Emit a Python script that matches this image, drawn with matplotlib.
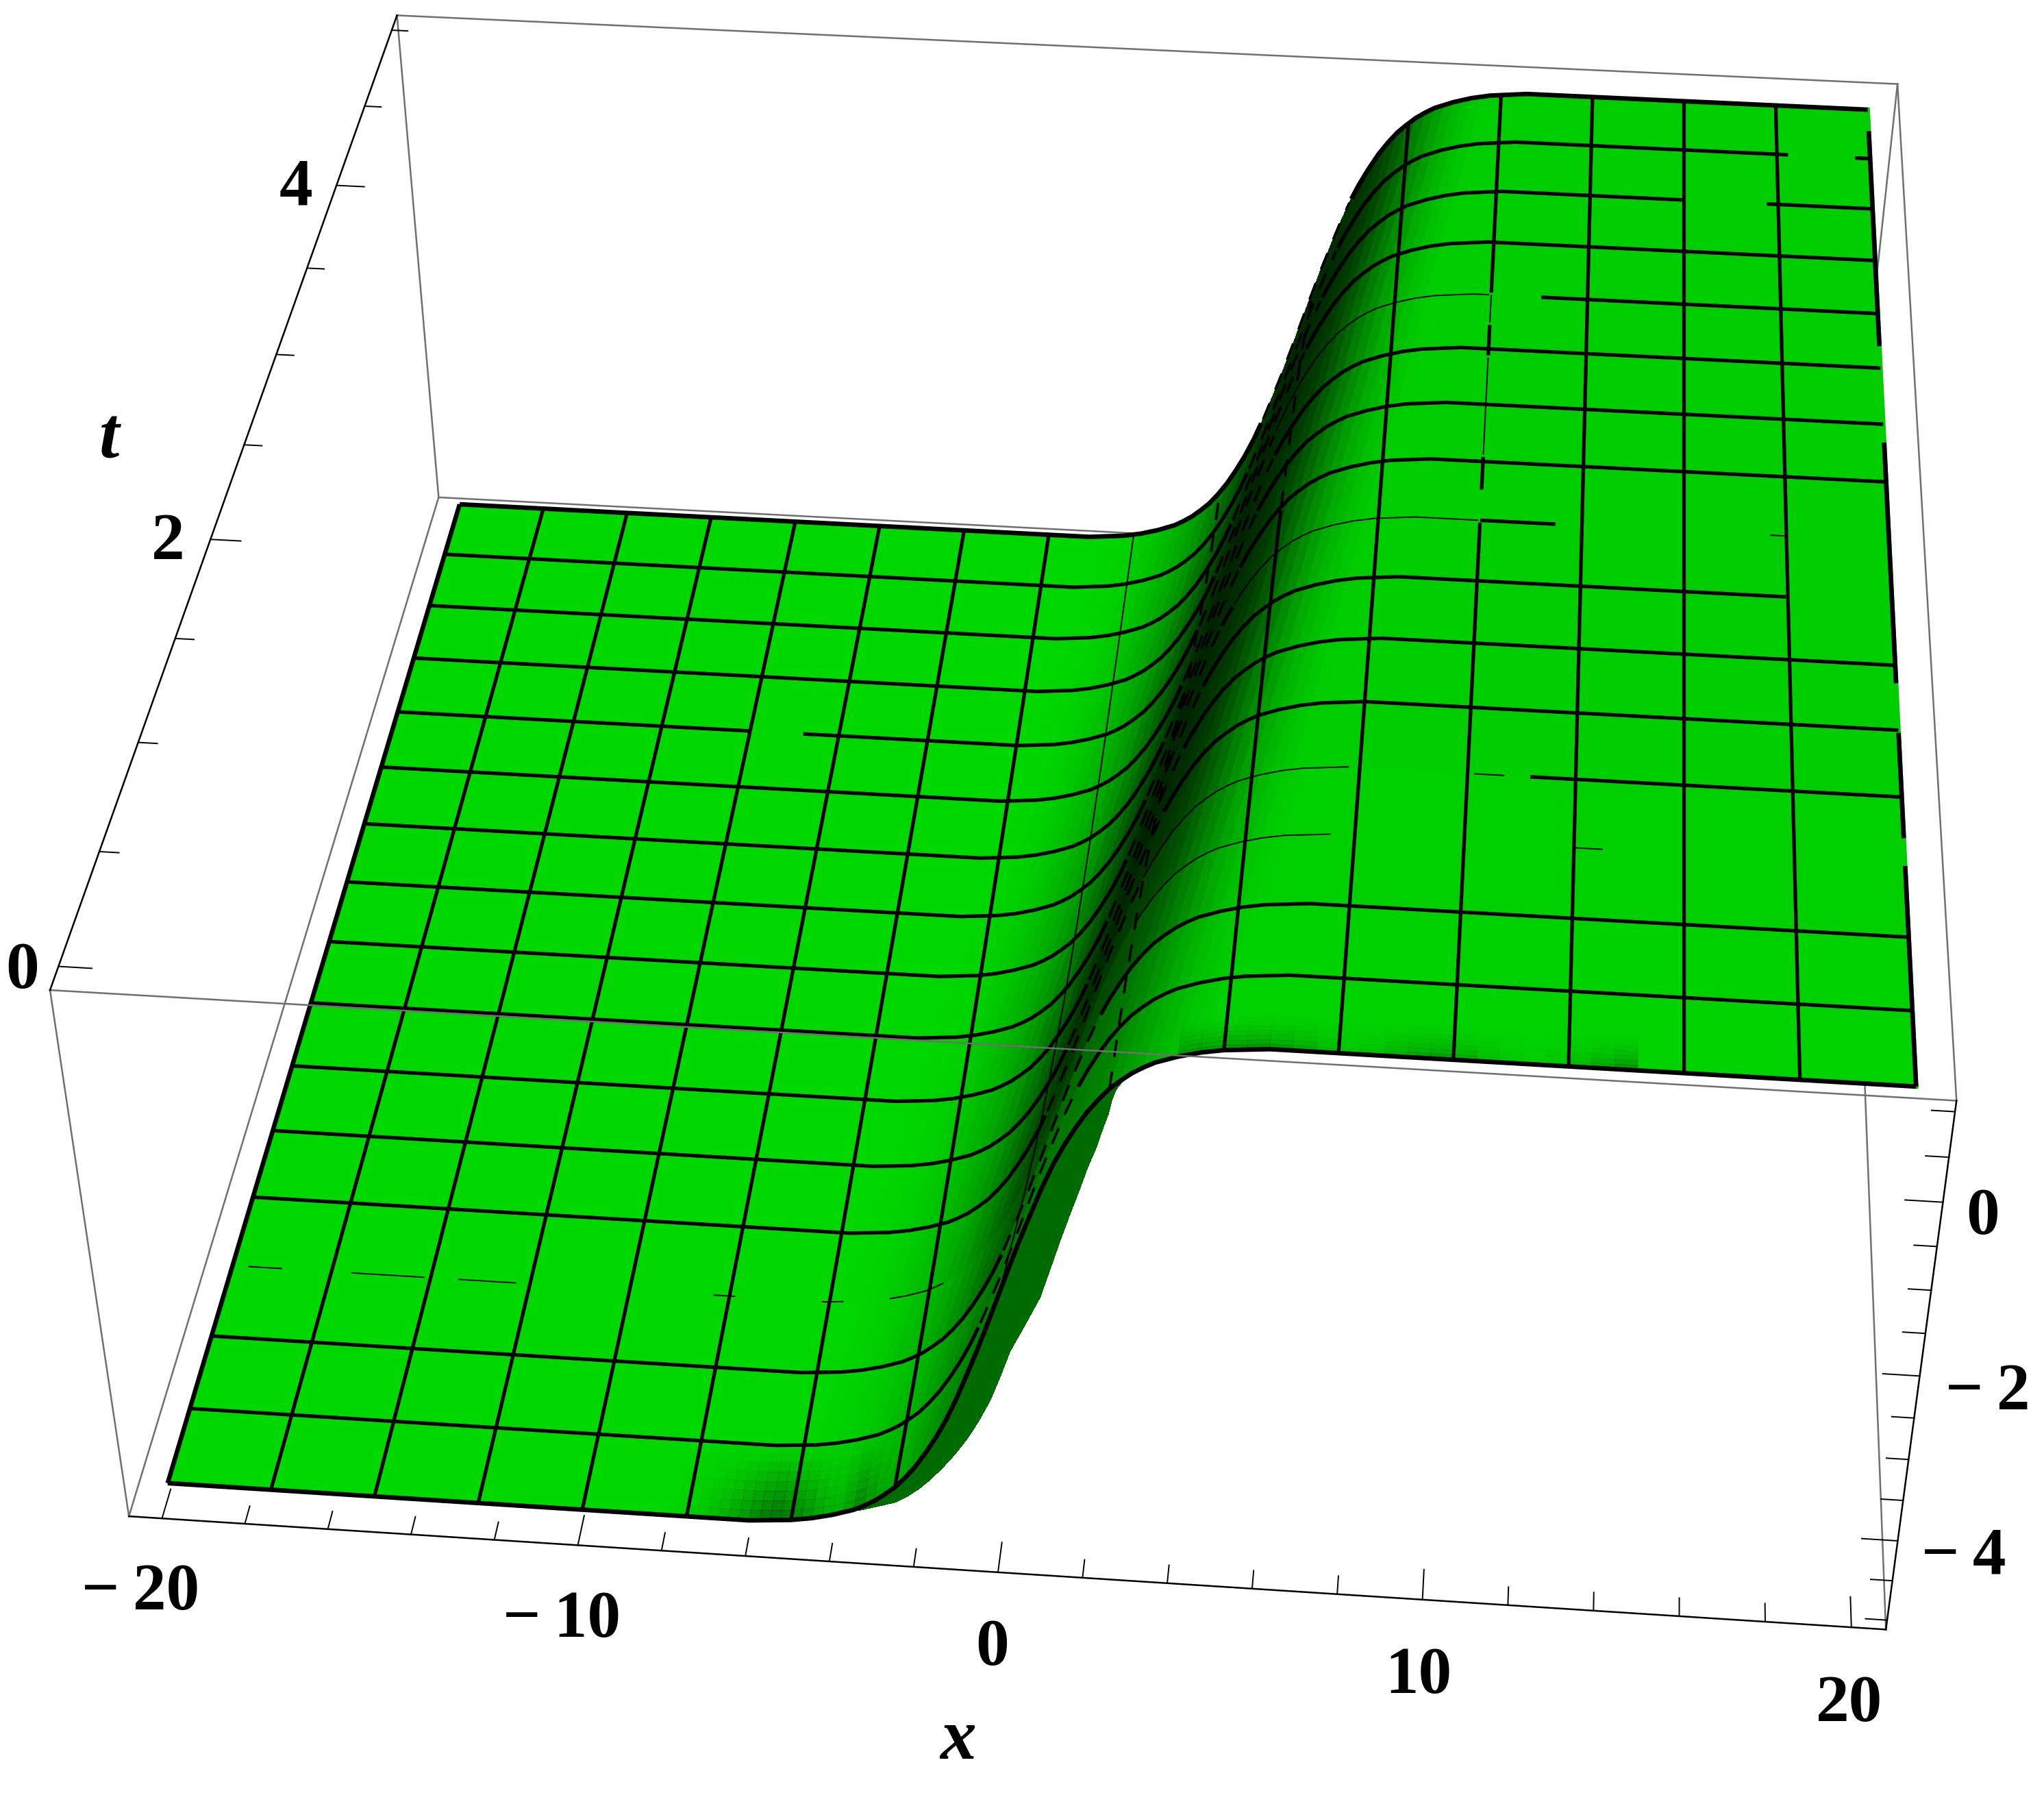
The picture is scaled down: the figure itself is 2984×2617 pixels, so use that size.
import numpy as np
import matplotlib
matplotlib.use("Agg")
from matplotlib import pyplot as plt
from mpl_toolkits.mplot3d import proj3d

# values
t_rows = [0, 0.3125, 0.625, 0.9375, 1.25, 1.5625, 1.875, 2.1875, 2.5, 2.8125,
          3.125, 3.4375, 3.75, 4.0625, 4.375, 4.6875, 5]
kink_centre = [0.0, 0.3, 0.6, 0.9, 1.2, 1.5, 1.8, 2.1, 2.4, 2.7, 3.0, 3.3,
               3.55, 3.85, 4.15, 4.45, 4.7]
kink_offset = [-60, -7, -6, -5.5, -5, -4.75, -4.5, -4.25, -4, -3.75, -3.5, -3.25, -3, -2.75,
               -2.5, -2.25, -2, -1.75, -1.5, -1.25, -1, -0.75, -0.5, -0.25, 0, 0.25, 0.5, 0.75,
               1, 1.25, 1.5, 1.75, 2, 2.25, 2.5, 2.75, 3, 3.25, 3.5, 3.75, 4, 4.25, 4.5, 4.75,
               5, 5.5, 6, 7, 60]
kink_height = [-4.98, -4.98, -4.98, -4.96, -4.94, -4.92, -4.90, -4.87, -4.84, -4.80, -4.76,
               -4.70, -4.63, -4.54, -4.44, -4.31, -4.16, -3.98, -3.78, -3.55, -3.28, -2.98,
               -2.67, -2.34, -2.0, -1.66, -1.33, -1.02, -0.72, -0.45, -0.22, -0.02, 0.16,
               0.31, 0.44, 0.54, 0.63, 0.70, 0.76, 0.80, 0.84, 0.87, 0.90, 0.92, 0.94, 0.96,
               0.98, 0.98, 0.98]
kink_green = [216, 216, 215, 213, 210, 207, 203, 198, 192, 185, 177, 168, 158, 146, 130, 116,
              100, 84, 70, 58, 50, 44, 40, 38, 36, 36, 36, 37, 39, 42, 46, 52, 60, 72, 88,
              106, 124, 142, 158, 172, 183, 192, 199, 204, 206, 206, 206, 206]
row_dark = [0.55, 0.62, 0.8, 0.9, 0.97, 1, 1, 1, 1, 1, 1, 1, 1, 1, 1, 0.97]
flap_shift = [0]*10 + [.15, .3, .5, .55, .57, .6, .63, .68, .72, .75, .78, .77, .75, .85, .95, .93,
                       .9, .87, .84, .78, .72, .6, .48, .3, .15, .05] + [0]*13

x_mesh = [-20, -17.5, -15, -12.5, -10, -7.5, -5, -2.5, 0, 2.5, 5, 7.5, 10, 12.5, 15, 17.5, 20]

# stretches of the mesh that are missing or thin in the picture
row_gaps = {3: [(-20, -19.6), (-18.7, -17), (-15.1, -14.3), (-12.8, -7.9), (-7.3, -5.2),
                (-4.6, -3.5), (-2.1, 2.5), (7, 12.5), (13.2, 20)],
            4: [(7.3, 10.15), (10.9, 11.45)],
            7: [(17.5, 20)],
            8: [(11.9, 17.1), (17.5, 20)],
            12: [(-10, -8.5), (10, 11.3)],
            14: [(15, 17.2)],
            15: [(17.85, 19.6)]}
row_thin = {3: [(-20, 20)],
            4: [(2.5, 7.3), (10.15, 10.9)],
            8: [(4, 10), (17.1, 17.5)],
            12: [(4.5, 10)]}
col_gaps = {10: [(2.5, 2.66)],
            20: [(4.87, 5), (3.03, 3.56), (1.56, 1.78), (0.94, 1.06)]}
col_thin = {0: [(0, 5)],
            10: [(2.85, 3.39), (3.58, 3.75)]}
col_dash = {2.5: [(0, 5)],
            5: [(2.8, 5)]}

blotch_x = [-8.25, -8, -7.75, -7.5, -7.25, -7, -6.75, -6.5, -6.25, -6, -5.75, -5.5, -5.25, -5,
            -4.75, -4.5, -4.25, -4, -3.75, -3.5, -3.25, -3, -2.75, -2.5, -2.25]
blotch_t = [0, 0.04, 0.08, 0.12, 0.16, 0.2, 0.24, 0.28, 0.32]
blotch_alpha = [0, .01, .03, .05, .08, .12, .17, .23, .3, .38, .45, .48, .45, .38, .3, .22,
                .15, .12, .2, .3, .2, .1, .04, 0]
blotch_decay = [1, .85, .7, .55, .4, .28, .15, .06]
ridge_x = [4, 4.5, 5, 5.5, 6, 6.5, 7, 7.5, 8, 8.5, 9, 9.5, 10, 10.5, 11, 11.5, 12, 12.5, 13,
           13.5, 14]
ridge_t = [0, 0.02, 0.04, 0.06, 0.08, 0.1, 0.12, 0.14]
ridge_alpha = [.25, .25, .28, .3, .25, .2, .12, .06, .08, .15, .22, .25, .18, .1, .05, .03,
               .05, .12, .2, .28]
ridge_decay = [1, .75, .55, .38, .25, .13, .05]

x_major = [-20, -10, 0, 10, 20]
x_minor = [-18, -16, -14, -12, -8, -6, -4, -2, 2, 4, 6, 8, 12, 14, 16, 18]
x_label_pos = [-19.98, -10.0, 0.1, 10, 19.9]
t_major = [0, 2, 4]
t_minor = [0.5, 1, 1.5, 2.5, 3, 3.5, 4.5, 5]
t_label_pos = [-21.55, -21.8, -21.85]
z_major = [-4, -2, 0]
z_minor = [-5, -4.5, -3.5, -3, -2.5, -1.5, -1, -0.5, 0.5, 1]
z_label_pos = [22.35, 22.35, 21.7]

xlim = (-20.8, 20.8)
tlim = (-0.1, 5.1)
zlim = (-5.12, 1.12)

W, H = 2984, 2617
plt.rcParams['font.family'] = ['Liberation Serif', 'DejaVu Serif']
fig = plt.figure(figsize=(W/200, H/200), dpi=200)
s = 18323.42
pos = [(1569.14 - 0.095*s)/W, (H - 1095.01 - 0.095*s)/H, 0.185*s/W, 0.185*s/H]
ax = fig.add_axes(pos, projection='3d')
ax.set_box_aspect((1, 1.0051, 0.397))
ax.set_proj_type('persp', focal_length=0.4401)
ax.view_init(elev=38.215, azim=-85.093, roll=-0.07)
ax.computed_zorder = False
ax.set_axis_off()
ax.patch.set_alpha(0)

# surface
tr = np.array(t_rows)
cen = np.array(kink_centre)
off = np.array(kink_offset)
hgt = np.array(kink_height)
X = np.clip(cen[:, None] + off[None, :], -20, 20)
T = np.repeat(tr[:, None], len(off), axis=1)
Z = np.repeat(hgt[None, :], len(tr), axis=0)
green = np.array(kink_green) / 255.0
flat = 216 / 255.0
colors = np.zeros((len(tr)-1, len(off)-1, 4))
for i, f in enumerate(row_dark):
    colors[i, :, 1] = flat - (flat - green) * f
colors[..., 3] = 1
ax.plot_surface(X, T, Z, facecolors=colors, rstride=1, cstride=1, shade=False,
                linewidth=0, antialiased=False, zorder=2)

# the flap in front of the kink
flapx = np.array([X[0], np.clip(X[0] + np.array(flap_shift), -20, 20)])
flapc = np.zeros((1, len(off)-1, 4))
flapc[..., 1] = 0.42
flapc[..., 3] = 1
ax.plot_surface(flapx, np.zeros_like(flapx), np.array([hgt, hgt]), facecolors=flapc,
                rstride=1, cstride=1, shade=False, linewidth=0, antialiased=False, zorder=1.5)


def height(x, t):
    return np.interp(x - np.interp(t, tr, cen), off, hgt)


def inside(v, spans):
    m = np.zeros(len(v), dtype=bool)
    for a, b in spans:
        m |= (v >= a) & (v <= b)
    return m


def dark_patch(xv, tv, alpha, decay):
    xv, tv = np.array(xv), np.array(tv)
    gx, gt = np.meshgrid(xv, tv)
    gz = np.array([height(xv, t) for t in tv])
    c = np.zeros((len(tv)-1, len(xv)-1, 4))
    c[..., 1] = 0.1
    c[..., 3] = np.outer(decay, alpha)
    ax.plot_surface(gx, gt, gz, facecolors=c, rstride=1, cstride=1, shade=False,
                    linewidth=0, antialiased=False, zorder=2.5)


dark_patch(blotch_x, blotch_t, blotch_alpha, blotch_decay)
dark_patch(ridge_x, ridge_t, ridge_alpha, ridge_decay)

# green rim under the right edge, shows where the mesh line breaks
ax.plot(np.full(len(t_rows), 20), t_rows, height(20, tr), color=(0, 206/255, 0), lw=2.4, zorder=2.6)


def mesh_line(px, pt, pz, gaps, thin, dash, lw):
    gaps = ~gaps
    for mask, w, ls in [(gaps & ~thin & ~dash, lw, '-'), (gaps & thin, 0.7, '-'),
                        (gaps & dash & ~thin, 1.3, (0, (7, 6)))]:
        if mask.any():
            ax.plot(px, pt, np.where(mask, pz, np.nan), color='black', lw=w, ls=ls, zorder=3,
                    solid_capstyle='butt')


xs = np.arange(-20, 20.01, 0.05)
for i, t in enumerate(t_rows):
    lw = 2.4 if i in (0, len(t_rows)-1) else 1.9
    u = xs - kink_centre[i]
    kink = (u > -1.0) & (u < 1.3) if i > 0 else np.zeros(len(xs), dtype=bool)
    mesh_line(xs, np.full_like(xs, t), height(xs, t), inside(xs, row_gaps.get(i, [])),
              inside(xs, row_thin.get(i, [])), kink, lw)
ts = np.linspace(0, 5, 401)
cen_t = np.interp(ts, tr, cen)
for i, x in enumerate(x_mesh):
    lw = 2.4 if i in (0, len(x_mesh)-1) else 1.9
    u = x - cen_t
    kink = inside(ts, col_dash.get(x, [])) | ((u > -1.3) & (u < 1.3))
    mesh_line(np.full_like(ts, x), ts, height(x, ts), inside(ts, col_gaps.get(x, [])),
              inside(ts, col_thin.get(x, [])), kink, lw)

# box
gray = '#707070'
def edge(a, b, c, color=gray, lw=0.9, z=4):
    ax.plot(a, b, c, color=color, lw=lw, zorder=z)

x0, x1 = xlim
t0, t1 = tlim
z0, z1 = zlim
edge([x0, x1], [t1, t1], [z0, z0], z=1)
edge([x0, x0], [t0, t1], [z0, z0], z=1)
edge([x1, x1], [t0, t1], [z0, z0], z=1)
edge([x0, x0], [t1, t1], [z0, z1], z=1)
edge([x1, x1], [t1, t1], [z0, z1], z=1)
edge([x0, x1], [t0, t0], [z1, z1])
edge([x0, x1], [t1, t1], [z1, z1])
edge([x1, x1], [t0, t1], [z1, z1])
edge([x0, x0], [t0, t0], [z0, z1])
edge([x0, x1], [t0, t0], [z0, z0], 'black')
edge([x0, x0], [t0, t1], [z1, z1], 'black')
edge([x1, x1], [t0, t0], [z0, z1], 'black')

# ticks
for v, n in [(x_major, 0.12), (x_minor, 0.072)]:
    for x in v:
        edge([x, x], [t0, t0 + n], [z0, z0], 'black', 0.7)
for v, n in [(t_major, 0.75), (t_minor, 0.45)]:
    for t in v:
        edge([x0, x0 + n], [t, t], [z1, z1], 'black', 0.7)
for v, n in [(z_major, 0.82), (z_minor, 0.5)]:
    for z in v:
        edge([x1, x1 - n], [t0, t0], [z, z], 'black', 0.7)

ax.set_xlim(*xlim)
ax.set_ylim(*tlim)
ax.set_zlim(*zlim)

# labels, anchored to the 3d box through the axes projection
M = ax.get_proj()
def label(x, t, z, text, **kw):
    px, py, _ = proj3d.proj_transform(x, t, z, M)
    ax.text2D(px, py, text, transform=ax.transData, fontweight='bold', ha='center', va='center', **kw)

fs = 35
def minus(v):
    return str(v).replace('-', '\u2212\u2009')

for x, p in zip(x_major, x_label_pos):
    label(p, -0.40, z0, minus(x), fontsize=fs)
for t, p in zip(t_major, t_label_pos):
    label(p, t - 0.03, z1, str(t), fontsize=fs)
for z, p in zip(z_major, z_label_pos):
    label(p, t0, z - 0.15, minus(z), fontsize=fs)
label(-0.4, -0.76, z0, 'x', fontsize=38, style='italic')
label(-24.2, 2.49, z1, 't', fontsize=38, style='italic')

fig.savefig("out.png", dpi=200)
